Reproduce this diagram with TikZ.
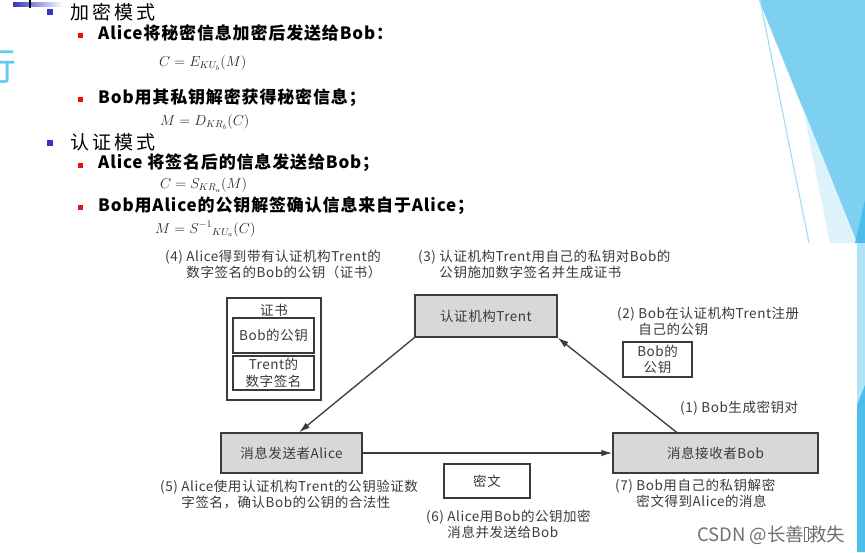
\documentclass[tikz,border=0pt]{standalone}
\usepackage{fontspec}
\usetikzlibrary{arrows.meta,calc}
\newfontfamily\cjk{Noto Sans CJK SC}
\definecolor{dgray}{HTML}{3A3A3A}
\definecolor{boxfill}{HTML}{D8D8D8}
\definecolor{bulletblue}{HTML}{3535C8}
\definecolor{bulletred}{HTML}{E81010}
\definecolor{cyanL}{HTML}{B0E2F8}
\definecolor{cyanVL}{HTML}{DDF2FB}
\definecolor{cyanM}{HTML}{7DD0F0}
\definecolor{cyanD}{HTML}{4CBDEA}
\definecolor{cyanLine}{HTML}{A8DDF5}
\definecolor{glyphcyan}{HTML}{62C9F0}
\definecolor{wmgray}{HTML}{707070}
\begin{document}
\begin{tikzpicture}[x=1pt,y=-1pt,
  note/.style={font=\cjk\fontsize{13.5}{16}\selectfont\addfontfeature{LetterSpace=4}, text=dgray, inner sep=0pt, align=left, anchor=west},
  gbox/.style={draw=dgray, line width=1.4pt, fill=boxfill, font=\cjk\fontsize{13.5}{15}\selectfont\addfontfeature{LetterSpace=4}, text=dgray, inner sep=0pt},
  wbox/.style={draw=dgray, line width=1.3pt, fill=white, font=\cjk\fontsize{13.5}{16.5}\selectfont\addfontfeature{LetterSpace=4}, text=dgray, inner sep=0pt, align=center},
  conn/.style={draw=dgray, line width=1.3pt, -{Latex[length=11pt,width=6.5pt]}},
  head/.style={font=\cjk\fontsize{19}{22}\selectfont\addfontfeature{LetterSpace=16}, anchor=west, inner sep=0pt},
  item/.style={font=\cjk\bfseries\fontsize{17}{20}\selectfont\addfontfeature{LetterSpace=5}, anchor=west, inner sep=0pt},
  formula/.style={font=\fontsize{14.5}{16}\selectfont, anchor=west, inner sep=0pt, text=black!85},
  bblue/.style={fill=bulletblue, draw=none, minimum size=6pt, inner sep=0pt},
  bred/.style={fill=bulletred, draw=none, minimum size=5pt, inner sep=0pt}]
\useasboundingbox (0,0) rectangle (865,552);
\fill[white] (0,0) rectangle (865,552);

% slide decorations (top left)
\shade[left color=bulletblue, right color=white] (13,2) rectangle (63,6);
\draw[black, line width=1.5pt] (30,0) -- (30,8);
\node[font=\cjk\fontsize{38}{40}\selectfont, text=glyphcyan, anchor=east, inner sep=0pt] (title) at (17,66) {行};

% right-edge decoration
\fill[cyanM] (759,0) -- (865,0) -- (865,243) -- (857,243) -- cycle;
\fill[cyanVL] (803,108) -- (857,243) -- (830,243) -- cycle;
\fill[cyanD] (865,200) -- (865,243) -- (855,243) -- cycle;
\draw[cyanLine, line width=1.2pt] (760,0) -- (809,243);
\fill[cyanL] (857,243) -- (865,243) -- (865,552) -- (857,552) -- cycle;
\fill[cyanD] (857,405) -- (865,385) -- (865,552) -- (857,552) -- cycle;

% slide text
\node[bblue] (b1) at (50,12) {};
\node[head] (h1) at (70,12) {加密模式};
\node[bred] (r1) at (80.5,35) {};
\node[item] (i1) at (98,33) {Alice将秘密信息加密后发送给Bob：};
\node[formula] (f1) at (159,63) {$C = E_{KU_b}(M)$};
\node[bred] (r2) at (80.5,99) {};
\node[item] (i2) at (98,98) {Bob用其私钥解密获得秘密信息；};
\node[formula] (f2) at (160,122) {$M = D_{KR_b}(C)$};
\node[bblue] (b2) at (50,143) {};
\node[head] (h2) at (70,142) {认证模式};
\node[bred] (r3) at (80.5,165) {};
\node[item] (i3) at (98,163) {Alice 将签名后的信息发送给Bob；};
\node[formula] (f3) at (160,185) {$C = S_{KR_a}(M)$};
\node[bred] (r4) at (80.5,207) {};
\node[item] (i4) at (98,206) {Bob用Alice的公钥解签确认信息来自于Alice；};
\node[formula] (f4) at (155,229) {$M = S^{-1}{}_{KU_a}(C)$};

% diagram nodes
\node[gbox, minimum width=142pt, minimum height=42pt] (trent) at (486,316) {认证机构Trent};
\node[gbox, minimum width=141pt, minimum height=40pt] (alice) at (291.5,453) {消息发送者Alice};
\node[gbox, minimum width=205pt, minimum height=40pt] (bob) at (715.5,453) {消息接收者Bob};
\node[wbox, minimum width=86pt, minimum height=34pt] (cipher) at (487,481) {密文};
\node[wbox, minimum width=69pt, minimum height=35pt, font=\cjk\fontsize{13.5}{15.5}\selectfont\addfontfeature{LetterSpace=4}] (bobkey) at (657.5,359.5) {Bob的\\公钥};
\node[wbox, minimum width=94pt, minimum height=102pt] (cert) at (274,349) {};
\node[font=\cjk\fontsize{13.5}{15}\selectfont\addfontfeature{LetterSpace=4}, text=dgray, inner sep=0pt] (certlabel) at (274,310) {证书};
\node[wbox, minimum width=81pt, minimum height=35pt] (inner1) at (273.5,335.5) {Bob的公钥};
\node[wbox, minimum width=81pt, minimum height=34pt] (inner2) at (273.5,373) {Trent的\\数字签名};

% notes
\node[note] (n4) at (165,265) {(4) Alice得到带有认证机构Trent的\\\phantom{(4) }数字签名的Bob的公钥（证书）};
\node[note] (n3) at (418,265) {(3) 认证机构Trent用自己的私钥对Bob的\\\phantom{(3) }公钥施加数字签名并生成证书};
\node[note] (n2) at (617,322) {(2) Bob在认证机构Trent注册\\\phantom{(2) }自己的公钥};
\node[note] (n1) at (680,408) {(1) Bob生成密钥对};
\node[note] (n5) at (160,495) {(5) Alice使用认证机构Trent的公钥验证数\\\phantom{(5) }字签名，确认Bob的公钥的合法性};
\node[note] (n6) at (426,525) {(6) Alice用Bob的公钥加密\\\phantom{(6) }消息并发送给Bob};
\node[note] (n7) at (615,494) {(7) Bob用自己的私钥解密\\\phantom{(7) }密文得到Alice的消息};

% connectors
\draw[conn] (trent.south west) -- (alice.70);
\draw[conn] (bob.152) -- (trent.south east);
\draw[conn] (alice.east) -- (bob.west);

% watermark
\node[font=\cjk\fontsize{18.5}{20}\selectfont, text=wmgray, anchor=west, inner sep=0pt] (wm) at (697,535) {CSDN @长善{\fboxsep=0pt\fboxrule=0.4pt\fbox{\phantom{\rule{3pt}{14pt}}}}救失};
\end{tikzpicture}
\end{document}
